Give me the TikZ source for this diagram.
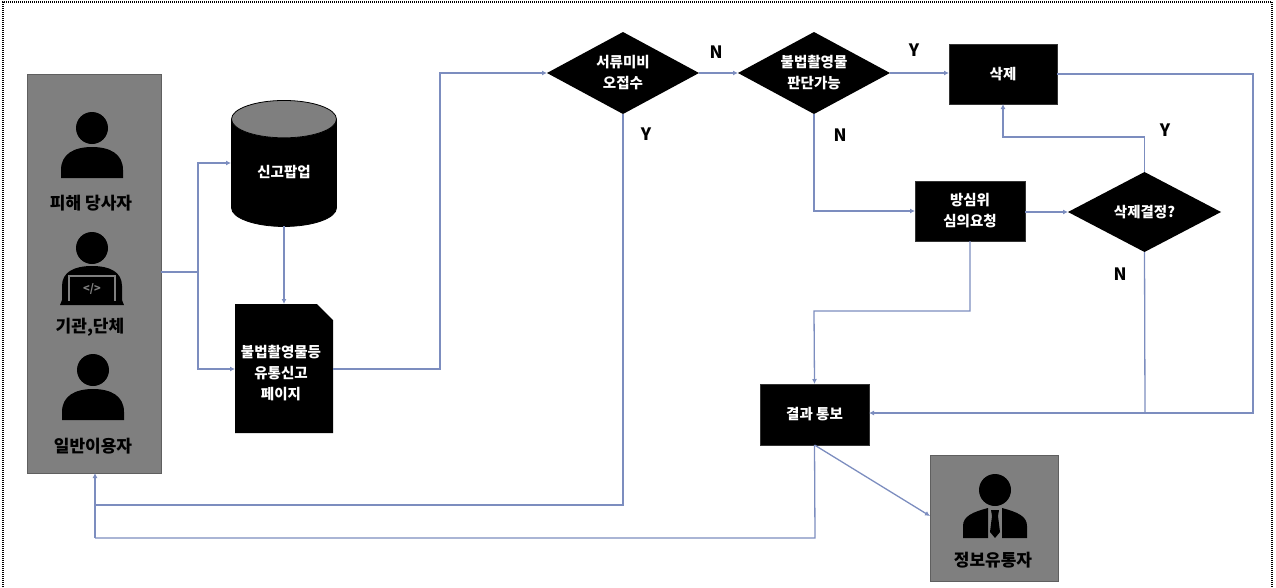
\documentclass[tikz,border=0pt]{standalone}
\usepackage{fontspec}
\setmainfont{Noto Sans CJK KR}
\usetikzlibrary{arrows.meta,shapes.geometric}
\definecolor{panel}{HTML}{7F7F7F}
\definecolor{panelline}{HTML}{5F5F5F}
\definecolor{wire}{HTML}{7C8DBF}
\tikzset{
  x=1pt,y=-1pt,
  boxdark/.style={rectangle,fill=black,draw=black!80,inner sep=0pt,outer sep=0pt,text=white,font=\fontsize{14.5}{21}\selectfont\bfseries,align=center},
  decide/.style={diamond,shape aspect=1.85,fill=black,inner sep=0pt,outer sep=0pt,text=white,font=\fontsize{14.5}{21}\selectfont\bfseries,align=center,minimum width=152pt,minimum height=82pt},
  panelbox/.style={rectangle,fill=panel,draw=panelline,line width=1pt,inner sep=0pt,outer sep=0pt},
  who/.style={text=black,font=\fontsize{17}{20}\selectfont\bfseries,inner sep=0pt},
  flag/.style={text=black,font=\fontsize{17}{20}\selectfont\bfseries,inner sep=0pt},
  inner/.style={text=white,font=\fontsize{14.5}{21}\selectfont\bfseries,align=center,inner sep=0pt},
  wired/.style={draw=wire,line width=1.3pt},
  flow/.style={wired,-{Latex[length=5pt,width=5pt]}},
  pics/person/.style={code={
    \fill[black] (0,0) circle[radius=16];
    \fill[black] (-31,50) -- (-31,42) .. controls (-31,26) and (-18,19) .. (0,19) .. controls (18,19) and (31,26) .. (31,42) -- (31,50) -- cycle;
  }},
  pics/coder/.style={code={
    \fill[black] (0,0) circle[radius=16];
    \fill[black] (-30,52) -- (-30,38) .. controls (-30,24) and (-18,18) .. (0,18) .. controls (18,18) and (30,24) .. (30,38) -- (30,52) -- (32,57) -- (-32,57) -- cycle;
    \draw[panel,line width=2pt] (-23,53) -- (-23,28) -- (23,28) -- (23,53);
    \node[text=panel,font=\fontsize{11}{11}\selectfont\bfseries,inner sep=0pt] (codemark) at (0,41) {</>};
  }},
  pics/suit/.style={code={
    \fill[black] (0,0) circle[radius=16];
    \fill[black] (-32,48) -- (-32,36) .. controls (-32,26) and (-22,22) .. (-7,18) -- (-7,48) -- cycle;
    \fill[black] (32,48) -- (32,36) .. controls (32,26) and (22,22) .. (7,18) -- (7,48) -- cycle;
    \fill[black] (-4,20) -- (4,20) -- (3,26) -- (5,42) -- (0,48) -- (-5,42) -- (-3,26) -- cycle;
  }},
}
\begin{document}
\begin{tikzpicture}
\useasboundingbox (0,0) rectangle (1276,587);
\draw[black,line width=1.4pt,dash pattern=on 1pt off 1pt] (3,587) -- (3,2) -- (1272,2) -- (1272,587);

% actors panel
\node[panelbox,minimum width=134pt,minimum height=399pt] (actors) at (94,273.5) {};
\pic at (92,128) {person};
\pic at (92,248) {coder};
\pic at (93,370) {person};
\node[who] (victim) at (91,203) {피해 당사자};
\node[who] (agency) at (90,327) {기관,단체};
\node[who] (user) at (93,446) {일반이용자};

% popup cylinder
\node[cylinder,shape border rotate=90,aspect=0.7,cylinder uses custom fill,cylinder body fill=black,cylinder end fill=panel,draw=black,line width=0.8pt,inner sep=0pt,outer sep=0pt,minimum width=105pt,minimum height=126pt,text=white,font=\fontsize{14.5}{21}\selectfont\bfseries] (popup) at (284,173) {\raisebox{3pt}{신고팝업}};

% report page
\node[rectangle,inner sep=0pt,outer sep=0pt,minimum width=98pt,minimum height=129pt] (page) at (284,368.5) {};
\fill[black] (page.north west) -- ([xshift=-16pt]page.north east) -- ([yshift=-16pt]page.north east) -- (page.south east) -- (page.south west) -- cycle;
\node[inner] (pagetext) at (281,373.5) {불법촬영물등\\유통신고\\페이지};

% decisions and steps
\node[decide] (misfile) at (623,73) {서류미비\\오접수};
\node[decide] (judge) at (814,73) {불법촬영물\\판단가능};
\node[boxdark,minimum width=108pt,minimum height=60pt] (remove) at (1003,74) {삭제};
\node[boxdark,minimum width=110pt,minimum height=60pt] (review) at (970,211) {방심위\\심의요청};
\node[decide,minimum width=153pt,minimum height=80pt] (decision) at (1144.5,212) {삭제결정?};
\node[boxdark,minimum width=109pt,minimum height=61pt] (result) at (814.5,414.5) {결과 통보};

% distributor panel
\node[panelbox,minimum width=128pt,minimum height=126pt] (dist) at (994,518) {};
\pic at (995,490) {suit};
\node[who] (distname) at (993,560) {정보유통자};

% junction and route points
\coordinate (fork) at (198,272);
\coordinate (ret) at (95,505);
\coordinate (ret2) at (95,538);
\coordinate (merge) at (1145,413);

% connectors
\draw[wired] (actors.east |- fork) -- (fork);
\draw[flow] (fork) |- (231,163);
\draw[flow] (fork) |- (page.west |- 0,369);
\draw[flow] (popup.south) -- (page.north);
\draw[flow] (page.east |- 0,369) -| (440,73) -- (misfile.west);
\draw[flow] (misfile.east) -- (judge.west);
\draw[flow] (judge.east) -- (remove.west |- judge.east);
\draw[flow] (judge.south) |- (review.west);
\draw[flow] (review.east |- decision.west) -- (decision.west);
\draw[flow] (decision.north) |- (1003,137) -- (remove.south);
\draw[flow] (remove.east) -| (1253,413) -- (result.east |- merge);
\draw[wired] (decision.south) -- (merge);
\draw[flow] (review.south) |- (814,311) -- (result.north);
\draw[wired] (result.south) -- (815,538) -- (ret2);
\draw[flow] (ret2) -- (ret |- actors.south);
\draw[wired] (misfile.south) |- (ret);
\draw[flow] (result.south) -- (dist.west |- 0,516);

% branch labels
\node[flag] (n1) at (716,52) {N};
\node[flag] (y1) at (646,134) {Y};
\node[flag] (n2) at (840,135) {N};
\node[flag] (y2) at (914,50) {Y};
\node[flag] (y3) at (1165,130) {Y};
\node[flag] (n3) at (1120,274) {N};
\end{tikzpicture}
\end{document}
